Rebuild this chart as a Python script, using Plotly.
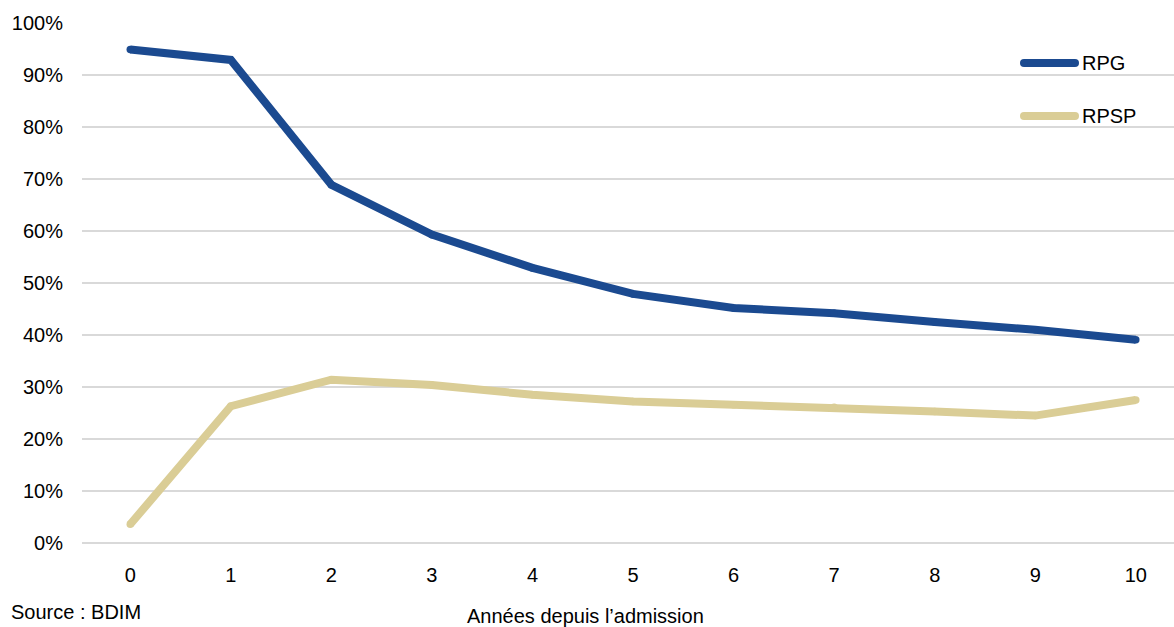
import plotly.graph_objects as go

# Years since admission
years = [0, 1, 2, 3, 4, 5, 6, 7, 8, 9, 10]
# Share of each group (fraction)
rpg = [0.949, 0.929, 0.689, 0.593, 0.529, 0.479, 0.452, 0.442, 0.425, 0.410, 0.391]
rpsp = [0.036, 0.263, 0.314, 0.304, 0.285, 0.272, 0.266, 0.261, 0.253, 0.245, 0.275]
y_ticks = [i / 10 for i in range(11)]

BLUE = "#1B4A90"
TAN = "#DACD96"
GRID = "#D9D9D9"
FONT = "Liberation Sans, Arial, sans-serif"
FS = 20

fig = go.Figure()
for name, vals, color in [("RPG", rpg, BLUE), ("RPSP", rpsp, TAN)]:
    fig.add_trace(go.Scatter(
        x=years, y=vals, mode="lines+markers", name=name,
        line=dict(color=color, width=8, shape="linear"),
        marker=dict(color=color, size=7.5, line=dict(width=0)),
        showlegend=False, hoverinfo="x+y",
    ))

# Manual legend: line sample plus label
for i, (name, color) in enumerate([("RPG", BLUE), ("RPSP", TAN)]):
    yp = 63 + i * 53
    yy = 1 - (yp - 23) / 520.3
    fig.add_shape(type="line", xref="paper", yref="paper",
                  x0=(1024 - 82) / 1092, x1=(1075 - 82) / 1092, y0=yy, y1=yy,
                  line=dict(color=color, width=8), layer="above")
    for xe in (1024, 1075):
        fig.add_shape(type="circle", xref="paper", yref="paper",
                      x0=(xe - 4 - 82) / 1092, x1=(xe + 4 - 82) / 1092,
                      y0=yy - 4 / 520.3, y1=yy + 4 / 520.3,
                      fillcolor=color, line=dict(width=0), layer="above")
    fig.add_annotation(xref="paper", yref="paper",
                       x=(1080 - 82) / 1092, y=yy,
                       text=name, showarrow=False, xanchor="left", yanchor="middle",
                       font=dict(family=FONT, size=FS, color="#000000"))

fig.add_annotation(xref="paper", yref="paper", x=(585 - 82) / 1092, y=1 - (616 - 23) / 520.3,
                   text="Années depuis l’admission", showarrow=False,
                   xanchor="center", yanchor="middle",
                   font=dict(family=FONT, size=FS, color="#000000"))
fig.add_annotation(xref="paper", yref="paper", x=(9 - 82) / 1092, y=1 - (612 - 23) / 520.3,
                   text="Source : BDIM", showarrow=False,
                   xanchor="left", yanchor="middle",
                   font=dict(family=FONT, size=FS, color="#000000"))

fig.update_layout(
    width=1174, height=627,
    margin=dict(l=82, r=0, t=23, b=83.7),
    paper_bgcolor="white", plot_bgcolor="white",
    font=dict(family=FONT, size=FS, color="#000000"),
    xaxis=dict(range=[-0.48, 10.38], tickvals=years, showgrid=False,
               zeroline=False, showline=False, ticks="", ticklabelstandoff=18),
    yaxis=dict(range=[0, 1], tickvals=y_ticks, tickformat=".0%",
               showgrid=True, gridcolor=GRID, gridwidth=1.5,
               zeroline=True, zerolinecolor=GRID, zerolinewidth=1.5,
               showline=False, ticks="", ticklabelstandoff=18),
)

fig.write_html("out.html")
